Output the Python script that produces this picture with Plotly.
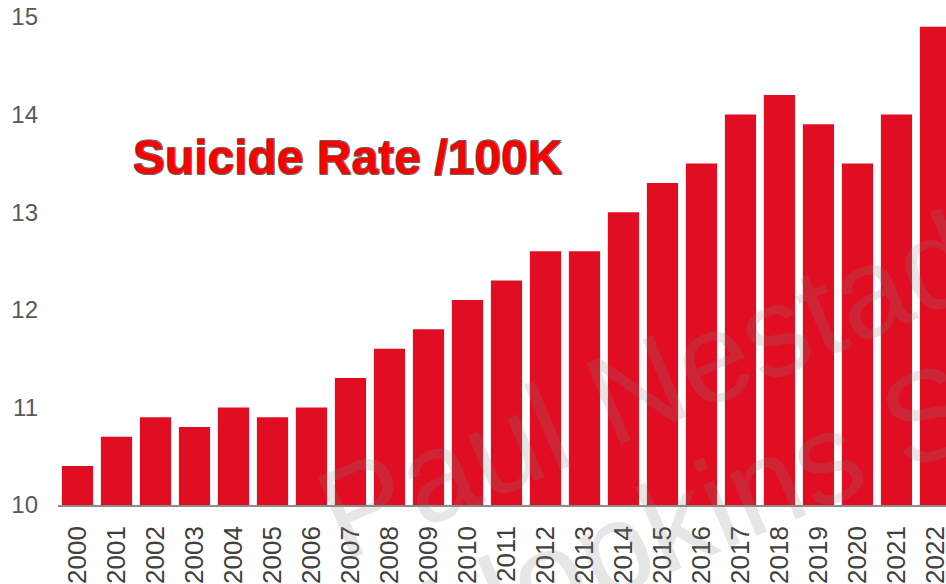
import plotly.graph_objects as go

years = [str(y) for y in range(2000, 2023)]
rates = [10.4, 10.7, 10.9, 10.8, 11.0, 10.9, 11.0, 11.3, 11.6, 11.8, 12.1, 12.3,
         12.6, 12.6, 13.0, 13.3, 13.5, 14.0, 14.2, 13.9, 13.5, 14.0, 14.9]
y_ticks = [10, 11, 12, 13, 14, 15]
title_text = "Suicide Rate /100K"
watermark_1 = "Paul Nestadt"
watermark_2 = "Johns Hopkins School"

fig = go.Figure(go.Bar(
    x=years, y=rates, marker=dict(color="#E10E23", line=dict(width=0)),
))

W, H = 946, 584
L, R, T, B = 58, 0, 17, 79
pw, ph = W - L - R, H - T - B

def px(xp):
    return (xp - L) / pw

def py(yp):
    return (H - B - yp) / ph

wm_font = dict(size=128, color="rgba(128,128,128,0.2)", family="Liberation Sans, Arial")

fig.update_layout(
    width=W, height=H,
    margin=dict(l=L, r=R, t=T, b=B, autoexpand=False),
    plot_bgcolor="white", paper_bgcolor="white",
    bargap=0.2, showlegend=False,
    font=dict(family="Liberation Sans, Arial, sans-serif"),
    xaxis=dict(
        type="category", range=[-0.5, 22.27], tickangle=-90,
        tickfont=dict(size=26, color="#404040"),
        showline=True, linecolor="#8c8c8c", linewidth=1.5,
        ticks="", showgrid=False, automargin=False, fixedrange=True,
        ticklabelstandoff=9,
    ),
    yaxis=dict(
        range=[10, 15], tickvals=y_ticks, tickfont=dict(size=24, color="#595959"),
        showline=False, showgrid=False, zeroline=False, ticks="",
        ticklabelstandoff=19, automargin=False, fixedrange=True,
    ),
    annotations=[
        dict(text=watermark_1, xref="paper", yref="paper", x=px(662), y=py(378),
             showarrow=False, xanchor="center", yanchor="middle", textangle=-23,
             font=wm_font),
        dict(text=watermark_2, xref="paper", yref="paper", x=px(665), y=py(526),
             showarrow=False, xanchor="center", yanchor="middle", textangle=-23,
             font=wm_font),
        dict(text=title_text, xref="paper", yref="paper", x=px(348), y=py(157),
             showarrow=False, xanchor="center", yanchor="middle",
             font=dict(size=48, color="#FF0000", family="Liberation Sans, Arial",
                       weight="bold",
                       shadow="0.7px 0.7px 0 #666, -0.7px -0.7px 0 #666, 0.7px -0.7px 0 #666, -0.7px 0.7px 0 #666")),
    ],
)

fig.write_html("out.html")
